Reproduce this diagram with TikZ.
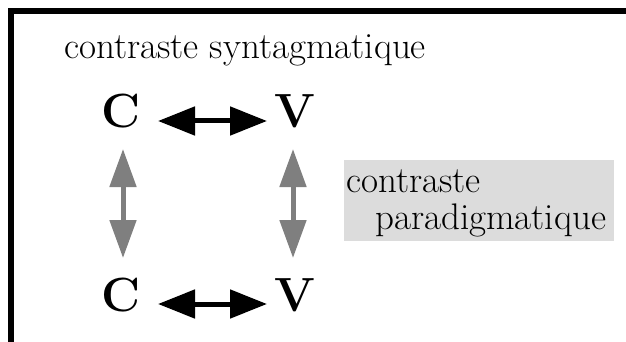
\documentclass[tikz,border=0pt]{standalone}
\usetikzlibrary{arrows.meta}
\definecolor{arrowgray}{HTML}{7F7F7F}
\definecolor{boxgray}{HTML}{DCDCDC}
\tikzset{
  txt/.style={inner sep=0pt, anchor=base west, font=\fontsize{37}{36}\selectfont},
  letter/.style={inner sep=0pt, anchor=base, font=\fontsize{48}{48}\selectfont\bfseries},
  syntarrow/.style={line width=5pt, {Triangle[length=37pt,width=28pt]}-{Triangle[length=37pt,width=28pt]}},
  paraarrow/.style={line width=5pt, arrowgray, {Triangle[length=38pt,width=26pt]}-{Triangle[length=38pt,width=26pt]}},
  graybox/.style={fill=boxgray, inner sep=0pt, anchor=north west, minimum width=270pt, minimum height=81pt}
}
\begin{document}
\begin{tikzpicture}[x=1pt,y=-1pt]
\useasboundingbox (0,0) rectangle (626,342);
% frame
\draw[line width=6pt, miter limit=10] (11,345) -- (11,11) -- (630,11);
% title
\node[txt] (title) at (64,59) {contraste syntagmatique};
% letters
\node[letter] (cT) at (121,128) {C};
\node[letter] (vT) at (295,128) {V};
\node[letter] (cB) at (121,311) {C};
\node[letter] (vB) at (295,311) {V};
% horizontal arrows
\draw[syntarrow] ([shift={(37,-7)}]cT.base) -- ([shift={(-28,-7)}]vT.base);
\draw[syntarrow] ([shift={(37,-7)}]cB.base) -- ([shift={(-28,-7)}]vB.base);
% vertical arrows
\draw[paraarrow] ([shift={(2,21)}]cT.base) -- ([shift={(2,-53)}]cB.base);
\draw[paraarrow] ([shift={(-2,21)}]vT.base) -- ([shift={(-2,-53)}]vB.base);
% label box
\node[graybox] (pbox) at (344,160) {};
\node[txt] (pl1) at (346,192) {contraste};
\node[txt] (pl2) at (375,229) {paradigmatique};
\end{tikzpicture}
\end{document}
